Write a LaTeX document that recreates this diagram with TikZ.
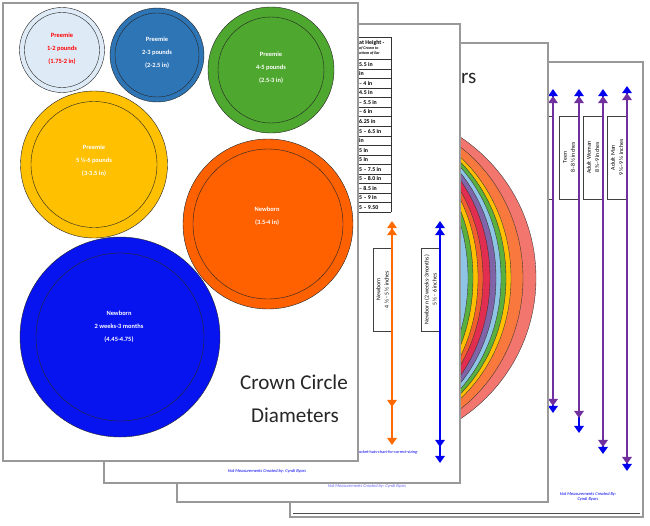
\documentclass[tikz,border=0pt]{standalone}
\usepackage{fontspec}
\setmainfont{Carlito}
\usepackage{xcolor}
\usetikzlibrary{positioning, arrows.meta}

\definecolor{preemieA}{HTML}{DEEBF7}
\definecolor{preemieB}{HTML}{2E75B6}
\definecolor{preemieC}{HTML}{4EA72E}
\definecolor{preemieD}{HTML}{FFC000}
\definecolor{newbornA}{HTML}{FF6000}
\definecolor{newbornB}{HTML}{0814F0}
\definecolor{hatblue}{HTML}{0000F0}
\definecolor{hatpurple}{HTML}{7030A0}
\definecolor{hatorange}{HTML}{FF6A00}
\definecolor{rbSalmon}{HTML}{F2756E}
\definecolor{rbOrange}{HTML}{F8783E}
\definecolor{rbYellow}{HTML}{FFC000}
\definecolor{rbGreen}{HTML}{5AB03C}
\definecolor{rbSky}{HTML}{8EC5E6}
\definecolor{rbPurple}{HTML}{8064A8}
\definecolor{rbCrimson}{HTML}{E12D50}
\definecolor{rbRed}{HTML}{F05F2D}

\begin{document}
\begin{tikzpicture}[x=0.03cm, y=-0.03cm,
    sheet/.style={fill=white, draw=black!40, line width=0.9pt},
    crown/.style={draw=black!85, line width=0.35pt},
    lbl/.style={font=\fontsize{5.5}{11}\selectfont\bfseries, text=white, align=center},
    bigtitle/.style={font=\fontsize{18}{20}\selectfont, text=black!85},
    sizebox/.style={draw=black!75, fill=white, rotate=90, align=center, minimum width=71pt, minimum height=16.5pt, inner sep=1pt, font=\fontsize{5}{7}\selectfont},
    hatarrow/.style={line width=1.7pt, >={Triangle[width=8pt,length=6pt]}, <->},
    footer/.style={font=\fontsize{3.8}{4.6}\selectfont\itshape, text=hatblue, align=center},
    cell/.style={anchor=west, inner sep=0pt, font=\fontsize{5}{6}\selectfont\bfseries}]

    \useasboundingbox (0,0) rectangle (650,525);

    % back sheet: adult sizes
    \filldraw[sheet] (290,62) rectangle (643,517);
    \draw[black!70, line width=0.8pt] (293,513) -- (640,513);
    \draw[black!75, line width=0.4pt] (530,116) rectangle (553,199);
    \node (teen) [sizebox] at (569,157.5) {Teen\\8--8 ½ inches};
    \node (woman) [sizebox] at (593,157.5) {Adult Woman\\8 ¾--9 inches};
    \node (man) [sizebox] at (617,157.5) {Adult Man\\9 ¼--9 ½ inches};
    \foreach \name/\x/\ya/\yb/\yc/\yd in {kid/553/89/413/96/406, teen/579/89/433/96/418, woman/603/89/454/96/447, man/627/86/471/93/464} {
        \coordinate (\name-a) at (\x,\ya);
        \coordinate (\name-b) at (\x,\yb);
        \coordinate (\name-c) at (\x,\yc);
        \coordinate (\name-d) at (\x,\yd);
        \draw[hatarrow, hatblue] (\name-a) -- (\name-b);
        \draw[hatarrow, hatpurple] (\name-c) -- (\name-d);
    }
    \node (footD) [footer] at (588,496.5) {Hat Measurements Created By:\\Cyndi Byars};

    % third sheet: rainbow
    \filldraw[sheet] (177,43) rectangle (548,502);
    \foreach \a/\b/\c in {169/169/rbSalmon, 156/163.6/rbOrange, 144/158.7/rbYellow, 139/156.6/rbGreen, 134/154.6/rbSky, 129/152.5/rbPurple, 123/150.1/rbCrimson, 116/147.2/rbRed, 111/145.1/rbYellow, 106/143.1/rbGreen, 101/141/rbSky}
        \filldraw[fill=\c, draw=black!80, line width=0.3pt] (367,278) ellipse [x radius=\a, y radius=\b];
    \node (titleRs) [bigtitle, anchor=base west, inner sep=0pt] at (461,83) {rs};
    \node (footC) [footer, text=hatblue!60] at (367,486) {Hat Measurements Created by: Cyndi Byars};

    % second sheet: table and newborn arrows
    \filldraw[sheet] (104,24) rectangle (460,483);
    \foreach \k in {0,...,16}
        \draw[black!80, line width=0.4pt] (330,59.3+9.56*\k) -- (391,59.3+9.56*\k);
    \draw[black!80, line width=0.4pt] (330,37) -- (391,37);
    \draw[black!80, line width=0.4pt] (391,37) -- (391,212.3);
    \node (headA) [cell] at (359,43) {at Height -};
    \node (headB) [cell, font=\fontsize{3.4}{4}\selectfont\bfseries\itshape] at (359,48.5) {of Crown to};
    \node (headC) [cell, font=\fontsize{3.4}{4}\selectfont\bfseries\itshape] at (359,53.5) {ottom of Ear};
    \foreach \i/\txt in {1/5.5 in, 2/in, 3/-- 4 in, 4/4.5 in, 5/-- 5.5 in, 6/-- 6 in, 7/6.25 in, 8/5 -- 6.5 in, 9/in, 10/5 in, 11/5 in, 12/5 -- 7.5 in, 13/5 -- 8.0 in, 14/-- 8.5 in, 15/5 -- 9 in, 16/5 -- 9.50}
        \node (row\i) [cell] at (359,59.3+9.56*\i-4.78) {\txt};

    \node (nbOrange) [sizebox] at (382.5,289.5) {Newborn\\4 ½ - 5 ½ inches};
    \node (nbBlue) [sizebox] at (430.5,289.5) {Newborn (2 weeks-3months)\\5 ½ - 6 inches};
    \coordinate (orangeA) at (392,221);
    \coordinate (orangeB) at (392,445);
    \coordinate (orangeC) at (392,228);
    \coordinate (orangeD) at (392,407);
    \coordinate (blueA) at (440,221);
    \coordinate (blueB) at (440,463);
    \coordinate (blueC) at (440,228);
    \coordinate (blueD) at (440,447);
    \draw[hatarrow, hatorange] (orangeA) -- (orangeB);
    \draw[hatarrow, hatorange] (orangeC) -- (orangeD);
    \draw[hatarrow, hatblue] (blueA) -- (blueB);
    \draw[hatarrow, hatblue] (blueC) -- (blueD);
    \node (link) [footer, anchor=west, inner sep=0pt, font=\fontsize{3.6}{4}\selectfont] at (359,452) {ocket-hats-chart-for-correct-sizing-};
    \node (footB) [footer] at (267,471) {Hat Measurements Created by: Cyndi Byars};

    % front sheet: crown circles
    \filldraw[sheet] (3,3) rectangle (358,461);
    \filldraw[crown, fill=preemieA] (62,50) circle (42.5);
    \draw[crown] (62,50) circle (37.5);
    \filldraw[crown, fill=preemieB] (157,55) circle (47);
    \draw[crown] (157,55) circle (42);
    \filldraw[crown, fill=preemieC] (271,70) circle (63);
    \draw[crown] (271,70) circle (53);
    \filldraw[crown, fill=preemieD] (94,164.5) circle (73.5);
    \draw[crown] (94,164.5) circle (63);
    \filldraw[crown, fill=newbornA] (268,224) circle (85);
    \draw[crown] (268,224) circle (75);
    \filldraw[crown, fill=newbornB] (120,337) circle (100);
    \draw[crown] (120,337) circle (84);

    \node (lblA) [lbl, text=red] at (62,49) {Preemie\\1-2 pounds\\(1.75-2 in)};
    \node (lblB) [lbl] at (157,53) {Preemie\\2-3 pounds\\(2-2.5 in)};
    \node (lblC) [lbl] at (271,68) {Preemie\\4-5 pounds\\(2.5-3 in)};
    \node (lblD) [lbl] at (94,161) {Preemie\\5 ½-6 pounds\\(3-3.5 in)};
    \node (lblE) [lbl] at (267,216) {Newborn\\(3.5-4 in)};
    \node (lblF) [lbl] at (119,327) {Newborn\\2 weeks-3 months\\(4.45-4.75)};

    \node (titleCrown) [bigtitle] at (294,382) {Crown Circle};
    \node (titleDiam) [bigtitle] at (295,415) {Diameters};
\end{tikzpicture}
\end{document}
